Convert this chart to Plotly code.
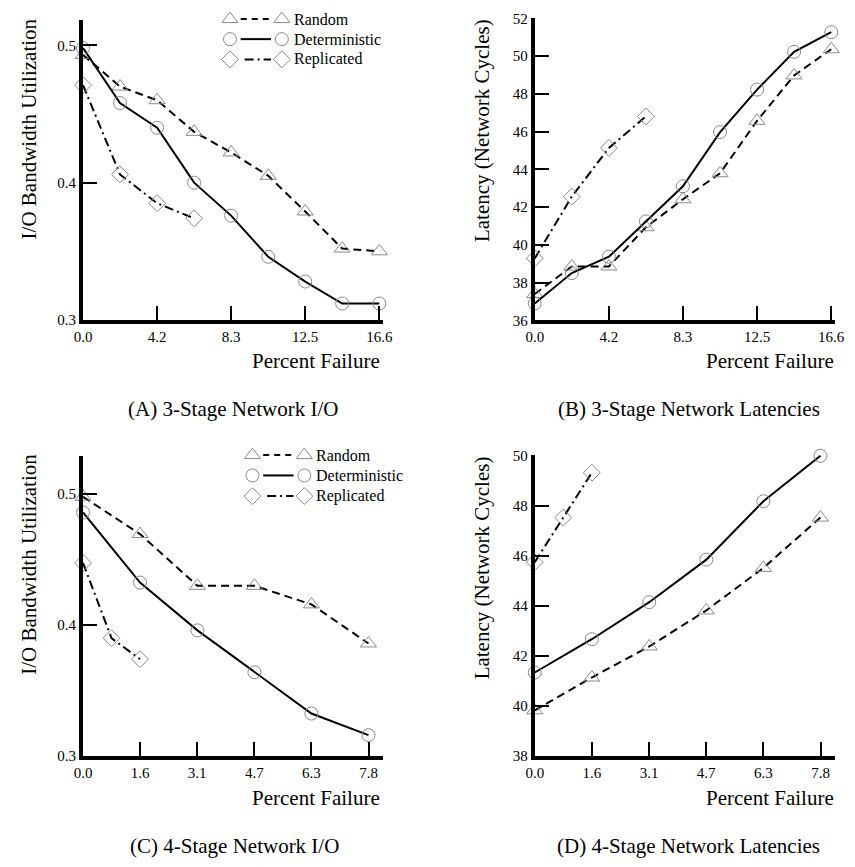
import plotly.graph_objects as go

W, H = 855, 867
FONT = "Liberation Serif, Times New Roman, serif"

# ---------------- data ----------------
# percent of failed components
pf_3stage = [0.0, 2.08, 4.17, 6.25, 8.33, 10.42, 12.5, 14.58, 16.67]
pf_3stage_rep = [0.0, 2.08, 4.17, 6.25]
pf_4stage = [0.0, 1.56, 3.13, 4.69, 6.25, 7.81]
pf_4stage_rep = [0.0, 0.78, 1.56]

# (A) 3-stage I/O bandwidth utilization
io3_random = [0.493, 0.470, 0.460, 0.437, 0.422, 0.405, 0.379, 0.352, 0.350]
io3_det = [0.498, 0.458, 0.440, 0.400, 0.376, 0.346, 0.328, 0.312, 0.312]
io3_rep = [0.471, 0.406, 0.385, 0.374]

# (B) 3-stage latency
lat3_random = [37.4, 38.86, 38.86, 40.94, 42.42, 43.8, 46.58, 48.98, 50.37]
lat3_det = [36.9, 38.51, 39.38, 41.25, 43.11, 45.98, 48.23, 50.23, 51.27]
lat3_rep = [39.29, 42.56, 45.14, 46.81]

# (C) 4-stage I/O bandwidth utilization
io4_random = [0.498, 0.4695, 0.430, 0.430, 0.4158, 0.386]
io4_det = [0.486, 0.4325, 0.396, 0.364, 0.3325, 0.316]
io4_rep = [0.4475, 0.390, 0.374]

# (D) 4-stage latency
lat4_random = [39.83, 41.14, 42.38, 43.82, 45.52, 47.53]
lat4_det = [41.34, 42.67, 44.15, 45.85, 48.18, 50.0]
lat4_rep = [45.75, 47.53, 49.32]

# tick labels
x3_tickvals = [0.0, 4.1667, 8.3333, 12.5, 16.6667]
x3_ticktext = ["0.0", "4.2", "8.3", "12.5", "16.6"]
x4_tickvals = [0.0, 1.5625, 3.125, 4.6875, 6.25, 7.8125]
x4_ticktext = ["0.0", "1.6", "3.1", "4.7", "6.3", "7.8"]
io_tickvals = [0.3, 0.4, 0.5]
lat3_tickvals = [36, 38, 40, 42, 44, 46, 48, 50, 52]
lat4_tickvals = [38, 40, 42, 44, 46, 48, 50]

series_names = ["Random", "Deterministic", "Replicated"]
captions = ["(A) 3-Stage Network I/O", "(B) 3-Stage Network Latencies",
            "(C) 4-Stage Network I/O", "(D) 4-Stage Network Latencies"]

# ---------------- styles ----------------
STYLE = {
    "Random": dict(dash="8px,5px", symbol="triangle-up-open", size=14),
    "Deterministic": dict(dash="solid", symbol="circle-open", size=13),
    "Replicated": dict(dash="9px,4px,2px,4px", symbol="diamond-open", size=13),
}
MARKER_COLOR = "#8a8a8a"
CLEAR = "rgba(0,0,0,0)"


def px_x(p):
    return p / W


def px_y(p):
    return 1 - p / H


def x_axis(left_px, right_px, ppu, tickvals, ticktext, anchor):
    return dict(
        domain=[px_x(left_px), px_x(right_px)],
        range=[0, (right_px - left_px) / ppu],
        showline=True, linewidth=4, linecolor="black",
        ticks="inside", ticklen=14, tickwidth=2, tickcolor="black",
        tickvals=tickvals, ticktext=ticktext,
        tickfont=dict(family=FONT, size=15, color="black"),
        showgrid=False, zeroline=False, anchor=anchor, fixedrange=True,
    )


def y_axis(bottom_px, top_px, v0, ppu, tickvals, anchor):
    return dict(
        domain=[px_y(bottom_px), px_y(top_px)],
        range=[v0, v0 + (bottom_px - top_px) / ppu],
        showline=True, linewidth=4, linecolor="black",
        ticks="inside", ticklen=14, tickwidth=2, tickcolor="black",
        tickvals=tickvals, ticktext=[str(v) for v in tickvals],
        tickfont=dict(family=FONT, size=15, color="black"),
        showgrid=False, zeroline=False, anchor=anchor, fixedrange=True,
    )


fig = go.Figure()


def add_series(xs, ys, name, xref, yref):
    st = STYLE[name]
    fig.add_trace(go.Scatter(
        x=xs, y=ys, mode="lines+markers", name=name,
        line=dict(color="black", width=2, dash=st["dash"]),
        marker=dict(symbol=st["symbol"], size=st["size"], color=MARKER_COLOR,
                    line=dict(color=MARKER_COLOR, width=1)),
        xaxis=xref, yaxis=yref, showlegend=False, cliponaxis=False,
    ))


panels = [
    ("x", "y", [(pf_3stage, io3_random), (pf_3stage, io3_det), (pf_3stage_rep, io3_rep)]),
    ("x2", "y2", [(pf_3stage, lat3_random), (pf_3stage, lat3_det), (pf_3stage_rep, lat3_rep)]),
    ("x3", "y3", [(pf_4stage, io4_random), (pf_4stage, io4_det), (pf_4stage_rep, io4_rep)]),
    ("x4", "y4", [(pf_4stage, lat4_random), (pf_4stage, lat4_det), (pf_4stage_rep, lat4_rep)]),
]
for xr, yr, series in panels:
    for name, (xs, ys) in zip(series_names, series):
        add_series(xs, ys, name, xr, yr)

# ---------------- legend keys (pixel overlay axes) ----------------
legend_blocks = [(226, [12.3, 32.7, 53.3]), (249, [456.0, 476.7, 497.7])]
for x0, rows in legend_blocks:
    for name, yrow in zip(series_names, rows):
        st = STYLE[name]
        line_start = x0 + (15 if name == "Replicated" else 11)
        fig.add_trace(go.Scatter(
            x=[line_start, x0 + 42], y=[yrow, yrow], mode="lines",
            line=dict(color="black", width=2,
                      dash="6px,5px" if name == "Random" else st["dash"]),
            xaxis="x5", yaxis="y5", showlegend=False, hoverinfo="skip",
        ))
        fig.add_trace(go.Scatter(
            x=[x0, x0 + 53], y=[yrow, yrow], mode="markers",
            marker=dict(symbol=st["symbol"], size=st["size"], color=MARKER_COLOR,
                        line=dict(color=MARKER_COLOR, width=1)),
            xaxis="x5", yaxis="y5", showlegend=False, hoverinfo="skip",
        ))

annotations = []
for x0, rows in legend_blocks:
    for name, yrow in zip(series_names, rows):
        annotations.append(dict(
            x=px_x(x0 + 63), y=px_y(yrow), xref="paper", yref="paper",
            text=name, showarrow=False, xanchor="left", yanchor="middle",
            font=dict(family=FONT, size=16, color="black"),
        ))

# axis titles
for xc, yc, txt in [(20, 124, "I/O Bandwidth Utilization"),
                    (484, 126, "Latency (Network Cycles)"),
                    (21, 567, "I/O Bandwidth Utilization"),
                    (484, 571, "Latency (Network Cycles)")]:
    annotations.append(dict(
        x=px_x(xc), y=px_y(yc), xref="paper", yref="paper", text=txt,
        textangle=-90, showarrow=False, xanchor="center", yanchor="middle",
        font=dict(family=FONT, size=21, color="black"),
    ))

for xr, yc in [(381, 360), (846, 360), (381, 805), (846, 805)]:
    annotations.append(dict(
        x=px_x(xr), y=px_y(yc), xref="paper", yref="paper", text="Percent Failure",
        showarrow=False, xanchor="right", yanchor="middle",
        font=dict(family=FONT, size=21, color="black"),
    ))

for (xc, yc), txt in zip([(230, 409), (695, 409), (231, 854), (695, 854)], captions):
    annotations.append(dict(
        x=px_x(xc), y=px_y(yc), xref="paper", yref="paper", text=txt,
        showarrow=False, xanchor="center", yanchor="middle",
        font=dict(family=FONT, size=21, color="black"),
    ))

fig.update_layout(
    width=W, height=H,
    margin=dict(l=0, r=0, t=0, b=0),
    paper_bgcolor="white", plot_bgcolor=CLEAR,
    showlegend=False,
    font=dict(family=FONT, color="black"),
    xaxis=x_axis(75.7, 382, 18.18, x3_tickvals, x3_ticktext, "y"),
    yaxis=y_axis(318.5, 13, 0.3, 1397.5, io_tickvals, "x"),
    xaxis2=x_axis(537.7, 845, 18.19, x3_tickvals, x3_ticktext, "y2"),
    yaxis2=y_axis(319, 11, 36, 19.21, lat3_tickvals, "x2"),
    xaxis3=x_axis(75.7, 383, 37.38, x4_tickvals, x4_ticktext, "y3"),
    yaxis3=y_axis(762.3, 456.7, 0.3, 1333, io_tickvals, "x3"),
    xaxis4=x_axis(537.7, 845, 37.41, x4_tickvals, x4_ticktext, "y4"),
    yaxis4=y_axis(762.3, 456, 38, 25.47, lat4_tickvals, "x4"),
    xaxis5=dict(domain=[0, 1], range=[0, W], visible=False, fixedrange=True, anchor="y5"),
    yaxis5=dict(domain=[0, 1], range=[H, 0], visible=False, fixedrange=True, anchor="x5"),
    annotations=annotations,
)

fig.write_html("out.html", config={"displayModeBar": False})
